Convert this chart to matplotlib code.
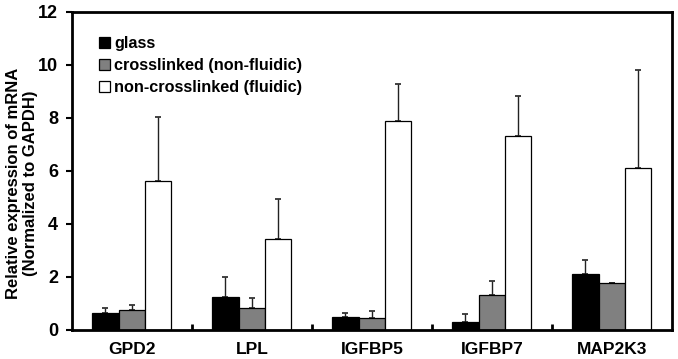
import numpy as np
import matplotlib.pyplot as plt
from matplotlib.ticker import MultipleLocator, FixedLocator

# ---- data ----
genes = ["GPD2", "LPL", "IGFBP5", "IGFBP7", "MAP2K3"]
series = ["glass", "crosslinked (non-fluidic)", "non-crosslinked (fluidic)"]
glass = [0.63, 1.23, 0.50, 0.31, 2.10]
glass_err = [0.21, 0.78, 0.15, 0.28, 0.53]
crosslinked = [0.75, 0.84, 0.44, 1.32, 1.76]
crosslinked_err = [0.19, 0.35, 0.29, 0.53, 0.02]
noncross = [5.60, 3.43, 7.90, 7.32, 6.12]
noncross_err = [2.45, 1.51, 1.38, 1.50, 3.68]

plt.rcParams['font.family'] = ['Liberation Sans', 'DejaVu Sans']
plt.rcParams['font.weight'] = 'bold'

fig = plt.figure(figsize=(6.78, 3.59), dpi=100)
ax = fig.add_axes([0.106, 0.081, 0.885, 0.886])

x = np.arange(len(genes))
w = 0.22
colors = ["black", "#808080", "white"]
vals = [glass, crosslinked, noncross]
errs = [glass_err, crosslinked_err, noncross_err]

for i in range(3):
    xi = x + (i - 1) * w
    ax.bar(xi, vals[i], w, color=colors[i], edgecolor="black", linewidth=0.9,
           label=series[i], zorder=2)
    ax.errorbar(xi, vals[i], yerr=[np.zeros(len(genes)), errs[i]], fmt="none",
                ecolor="#222222", elinewidth=1.0, capsize=2.5, capthick=1.2, zorder=1)

ax.set_xlim(-0.5, len(genes) - 0.5)
ax.set_ylim(0, 12)
ax.yaxis.set_major_locator(MultipleLocator(2))
ax.set_xticks(x)
ax.set_xticklabels(genes, fontsize=12.5, fontweight="bold")
ax.xaxis.set_minor_locator(FixedLocator(np.arange(0.5, len(genes) - 1, 1.0)))
ax.tick_params(axis="x", which="major", length=0, pad=9)
ax.tick_params(axis="x", which="minor", direction="in", length=4, width=2)
ax.tick_params(axis="y", direction="out", length=4, width=1.5, labelsize=13, pad=6)
for lab in ax.get_yticklabels():
    lab.set_fontweight("bold")

for sp in ax.spines.values():
    sp.set_linewidth(2)

ax.set_ylabel("Relative expression of mRNA\n(Normalized to GAPDH)", fontsize=12,
              fontweight="bold", linespacing=1.15)
ax.yaxis.set_label_coords(-0.056, 0.46)

ax.legend(loc="upper left", frameon=False, fontsize=11.7, handlelength=0.65,
          handleheight=0.65, handletextpad=0.25, labelspacing=0.45,
          bbox_to_anchor=(0.035, 0.945), borderaxespad=0)

plt.savefig("out.png", dpi=100)
